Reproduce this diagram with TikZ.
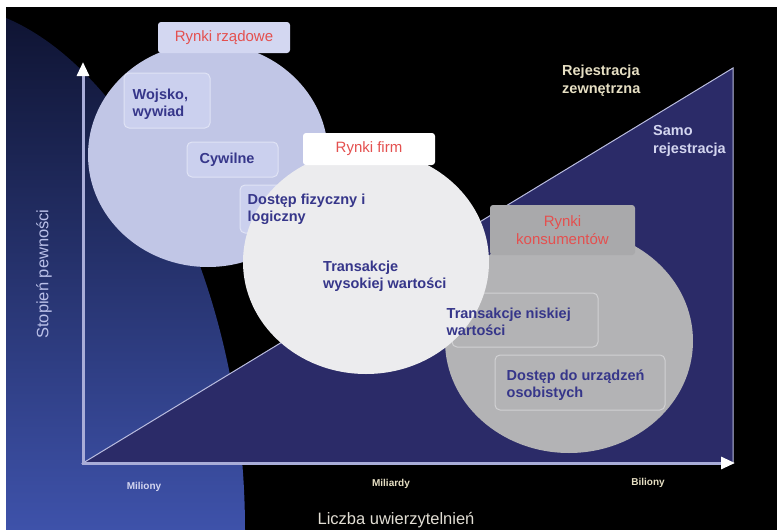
\documentclass[tikz,border=0pt]{standalone}
\usepackage{fontspec}
\setmainfont{Liberation Sans}
\usetikzlibrary{shapes.geometric,arrows.meta,positioning}
\definecolor{govfill}{HTML}{C1C6E6}
\definecolor{govbox}{HTML}{CBD0EE}
\definecolor{firmfill}{HTML}{ECECEE}
\definecolor{konsfill}{HTML}{B3B3B5}
\definecolor{konsbox}{HTML}{A9A9AB}
\definecolor{labred}{HTML}{E4504F}
\definecolor{itemblue}{HTML}{36368A}
\definecolor{navy}{HTML}{2B2B68}
\definecolor{axcol}{HTML}{A9ADD8}
\definecolor{cream}{HTML}{E6DFC3}
\definecolor{lav}{HTML}{D4D6F0}

\begin{document}
\begin{tikzpicture}[x=1pt,y=-1pt,
 mk/.style={ellipse,inner sep=0pt,draw=none},
 lab/.style={rounded corners=3pt,inner sep=0pt,align=center,text=labred,font=\fontsize{15}{18}\selectfont},
 sb/.style={rounded corners=5pt,inner sep=0pt,line width=1pt},
 it/.style={align=left,inner sep=0pt,text=itemblue,font=\bfseries\fontsize{14.5}{17}\selectfont},
 note/.style={align=left,inner sep=0pt,font=\bfseries\fontsize{14.5}{18}\selectfont},
 tick/.style={inner sep=0pt,font=\bfseries\fontsize{10}{12}\selectfont,text=cream},
 ax/.style={draw=axcol,line width=3pt,-{Triangle[length=14pt,width=12pt,color=white]}}]
\useasboundingbox (0,0) rectangle (777,530);
\fill[white] (0,0) rectangle (777,530);
\fill[black] (6,7) rectangle (777,530);
% blue area on the left
\fill[top color={rgb,255:red,15;green,20;blue,51},bottom color={rgb,255:red,62;green,82;blue,170}]
 (6,18) .. controls (130,70) and (245,280) .. (245,530) -- (6,530) -- cycle;
% triangle
\coordinate (o) at (83,463);
\coordinate (ytop) at (83,62);
\coordinate (xend) at (735,463);
\coordinate (tr) at (733,68);
\filldraw[fill=navy,draw=axcol!80,line width=1pt] (o) -- (tr) -- (733,463) -- cycle;
\draw[ax] (o) -- (ytop);
\draw[ax] ([xshift=-1.5pt]o) -- (xend);
% markets
\node[mk,fill=govfill,minimum width=240pt,minimum height=224pt] (gov) at (208,155) {};
\node[sb,fill=govbox,draw=govbox!60!white,minimum width=86pt,minimum height=55pt] (bwoj) at (167,100.5) {};
\node[sb,fill=govbox,draw=govbox!60!white,minimum width=91pt,minimum height=35pt] (bcyw) at (232.5,159.5) {};
\node[sb,fill=govbox,draw=govbox!60!white,minimum width=132pt,minimum height=48pt] (bdos) at (306,209) {};
\node[mk,fill=konsfill,minimum width=248pt,minimum height=224pt] (kons) at (569,341) {};
\node[sb,draw=konsfill!60!white,minimum width=146pt,minimum height=54pt] (bnis) at (525,320) {};
\node[sb,draw=konsfill!60!white,minimum width=170pt,minimum height=55pt] (burz) at (580,382.5) {};
\node[mk,fill=firmfill,minimum width=246pt,minimum height=224pt] (firm) at (366,262) {};
% labels
\node[lab,fill=govbox!85!white,minimum width=132pt,minimum height=31pt] (lrz) at (224,37.5) {Rynki rządowe};
\node[lab,fill=white,minimum width=132pt,minimum height=32pt] (lfi) at (369,149) {Rynki firm};
\node[lab,fill=konsbox,minimum width=145pt,minimum height=50pt] (lko) at (562.5,230) {Rynki\\konsumentów};
% texts
\node[it,anchor=west] (twoj) at ([xshift=9pt,yshift=-4pt]bwoj.west) {Wojsko,\\wywiad};
\node[it,anchor=west] (tcyw) at ([xshift=13pt]bcyw.west) {Cywilne};
\node[it,anchor=west] (tdos) at ([xshift=8pt]bdos.west) {Dostęp fizyczny i\\logiczny};
\node[it,anchor=west] (twys) at (323,276) {Transakcje\\wysokiej wartości};
\node[it,anchor=west] (tnis) at ([xshift=-5pt,yshift=-2pt]bnis.west) {Transakcje niskiej\\wartości};
\node[it,anchor=west] (turz) at ([xshift=12pt,yshift=-3pt]burz.west) {Dostęp do urządzeń\\osobistych};
\node[note,text=cream,anchor=west] (rzew) at (562,81) {Rejestracja\\zewnętrzna};
\node[note,text=lav,anchor=west] (rsam) at (653,141) {Samo\\rejestracja};
% axis texts
\node[tick,text=lav] (mln) at (144,487) {Miliony};
\node[tick] (mld) at (391,484) {Miliardy};
\node[tick] (bln) at (648,483) {Biliony};
\node[font=\fontsize{16.5}{19}\selectfont,text={rgb,255:red,226;green,222;blue,212},inner sep=0pt] (xlab) at (396,520) {Liczba uwierzytelnień};
\node[font=\fontsize{16.5}{19}\selectfont,text={rgb,255:red,186;green,192;blue,232},inner sep=0pt,rotate=90] (ylab) at (44,274) {Stopień pewności};
\end{tikzpicture}
\end{document}
